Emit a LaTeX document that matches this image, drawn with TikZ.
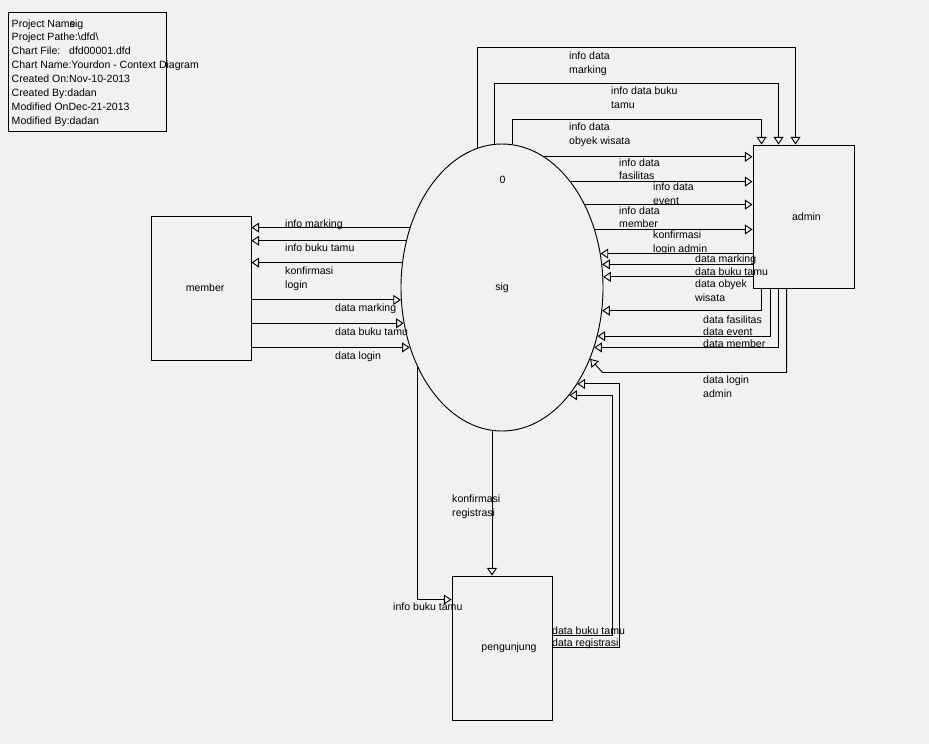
\documentclass[tikz,border=0pt]{standalone}
\usepackage{fontspec}
\setmainfont{Liberation Sans}
\usepackage{tikz}
\usetikzlibrary{shapes,arrows.meta,positioning,calc}
\usepackage{xcolor}
\definecolor{bgcol}{RGB}{241,241,241}

\tikzset{
  flow/.style={line width=0.8pt, -{Triangle[open,length=6.5pt,width=8.5pt]}},
  lbl/.style={font=\fontsize{9}{11.5}\selectfont, inner sep=0pt, anchor=base west, align=left},
  entity/.style={draw, line width=0.8pt, minimum width=3cm, minimum height=4.32cm, font=\fontsize{9}{11}\selectfont},
}

\begin{document}
\begin{tikzpicture}[x=0.03cm, y=-0.03cm]
  \fill[bgcol] (0,0) rectangle (929,744);
  \useasboundingbox (0,0) rectangle (929,744);
  % header
  \node[draw, line width=0.8pt, anchor=north west, minimum width=4.74cm, minimum height=3.57cm, inner sep=0pt] (info) at (8,12) {};
  \foreach \t [count=\i] in {Project Nam\rlap{e}sig, Project Pathe:\textbackslash dfd\textbackslash,
      Chart File:\hspace{7.5pt}dfd00001.dfd, Chart Name:Yourdon - Context Diagram,
      Created On:Nov-10-2013, Created By:dadan, Modified OnDec-21-2013, Modified By:dadan}
    \node[lbl] (info-\i) at (11.5, 13.86*\i+13.14) {\t};

  % entities and process
  \node[entity] (member) at (201,288) {\hspace*{7pt}member};
  \node[entity, minimum width=3.03cm, minimum height=4.29cm] (admin) at (803.5,216.5) {\hspace*{5pt}admin};
  \node[entity] (peng) at (502,648) {\hspace*{12pt}pengunjung};
  \node[draw, ellipse, line width=0.8pt, minimum width=6.06cm, minimum height=8.61cm, inner sep=0pt,
        font=\fontsize{9}{11}\selectfont] (sig) at (502,287.5) {sig};
  \node[font=\fontsize{9}{11}\selectfont] (sig-id) at (502.5,180) {0};

  % sig -> admin (top)
  \draw[flow] (sig.100.2) |- ($(admin.north west)+(43,-97)$) -- ($(admin.north west)+(43,0)$);
  \draw[flow] (sig.93.2) |- ($(admin.north west)+(26,-61)$) -- ($(admin.north west)+(26,0)$);
  \draw[flow] (sig.86.4) |- ($(admin.north west)+(9,-25)$) -- ($(admin.north west)+(9,0)$);
  % sig -> admin (side)
  \draw[flow] (sig.72.9) -- (sig.72.9 -| admin.west);
  \draw[flow] (sig.57.6) -- (sig.57.6 -| admin.west);
  \draw[flow] (sig.45.5) -- (sig.45.5 -| admin.west);
  \draw[flow] (sig.32.9) -- (sig.32.9 -| admin.west);
  % admin -> sig
  \draw[flow] (sig.19.4 -| admin.west) -- (sig.19.4);
  \draw[flow] (sig.13.3 -| admin.west) -- (sig.13.3);
  \draw[flow] (sig.6.5 -| admin.west) -- (sig.6.5);
  \draw[flow] ($(admin.south west)+(9,0)$) |- (sig.-13.8);
  \draw[flow] ($(admin.south west)+(18,0)$) |- (sig.-27.0);
  \draw[flow] ($(admin.south west)+(26,0)$) |- (sig.-33.5);
  \draw[flow] ($(admin.south west)+(34,0)$) -- ++(0,84) -- ++(-184,0) -- (sig.-39.7);

  % sig <-> member
  \draw[flow] (sig.147.1) -- (sig.147.1 -| member.east);
  \draw[flow] (sig.154.1) -- (sig.154.1 -| member.east);
  \draw[flow] (sig.166.7) -- (sig.166.7 -| member.east);
  \draw[flow] (sig.187.1 -| member.east) -- (sig.187.1);
  \draw[flow] (sig.200.5 -| member.east) -- (sig.200.5);
  \draw[flow] (sig.213.5 -| member.east) -- (sig.213.5);

  % sig <-> pengunjung
  \draw[flow] (sig.266.8) -- (sig.266.8 |- peng.north);
  \draw[flow] (sig.223.5) |- ($(peng.north west)+(0,24)$);
  \draw[flow] ($(peng.north east)+(0,60)$) -- ++(60,0) |- (sig.-58.7);
  \draw[flow] ($(peng.north east)+(0,72)$) -- ++(67,0) |- (sig.-52.8);

  % labels admin side (two-line labels sit on their last line)
  \node[lbl] (l-idmark) at (569,73) {info data\\marking};
  \node[lbl] (l-idbuku) at (611,108) {info data buku\\tamu};
  \node[lbl] (l-idobyek) at (569,144) {info data\\obyek wisata};
  \node[lbl] (l-idfas) at (619,179.5) {info data\\fasilitas};
  \node[lbl] (l-idevent) at (653,204) {info data\\event};
  \node[lbl] (l-idmember) at (619,227.5) {info data\\member};
  \node[lbl] (l-konfadm) at (653,252) {konfirmasi\\login admin};
  \node[lbl] (l-dmark) at (695,262) {data marking};
  \node[lbl] (l-dbuku) at (695,275) {data buku tamu};
  \node[lbl] (l-dobyek) at (695,301) {data obyek\\wisata};
  \node[lbl] (l-dfas) at (703,323) {data fasilitas};
  \node[lbl] (l-devent) at (703,335) {data event};
  \node[lbl] (l-dmember) at (703,347) {data member};
  \node[lbl] (l-dlogadm) at (703,397) {data login\\admin};
  % labels member side
  \node[lbl] (l-imark) at (285,227) {info marking};
  \node[lbl] (l-ibuku) at (285,251) {info buku tamu};
  \node[lbl] (l-konflog) at (285,288) {konfirmasi\\login};
  \node[lbl] (l-mmark) at (335,311) {data marking};
  \node[lbl] (l-mbuku) at (335,335) {data buku tamu};
  \node[lbl] (l-mlogin) at (335,359) {data login};
  % labels pengunjung side
  \node[lbl] (l-konfreg) at (452,516) {konfirmasi\\registrasi};
  \node[lbl] (l-pibuku) at (393,610) {info buku tamu};
  \node[lbl] (l-pbuku) at (552,634) {data buku tamu};
  \node[lbl] (l-preg) at (552,646) {data registrasi};
\end{tikzpicture}
\end{document}
